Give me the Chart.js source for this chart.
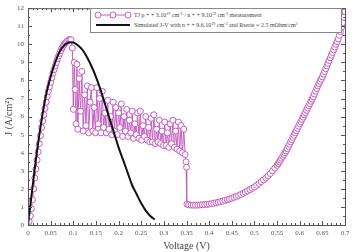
<!DOCTYPE html>
<html>
<head>
<meta charset="utf-8">
<script src="https://cdn.jsdelivr.net/npm/chart.js@4.4.0/dist/chart.umd.min.js"></script>
<style>
  html, body { margin: 0; padding: 0; background: #fff; }
  #wrap { position: relative; width: 354px; height: 252px; }
  #chart { display: block; }
  #legend {
    position: absolute; left: 90px; top: 8px; width: 252px; height: 25px;
    box-sizing: border-box; border: 1px solid #888; background: #fff;
    font-family: "Liberation Serif", serif; font-size: 6px; color: #444;
  }
  .row { position: absolute; left: 3px; height: 10px; line-height: 10px; white-space: nowrap; }
  .row span.txt { position: absolute; left: 40px; top: 0; }
  sup { font-size: 4px; vertical-align: 2px; line-height: 0; }
  canvas.mk { position: absolute; left: 0; top: 0; }
</style>
</head>
<body>
<div id="wrap">
  <canvas id="chart" width="354" height="252"></canvas>
  <div id="legend">
    <div class="row" style="top:1px"><canvas class="mk" id="mk1" width="38" height="10"></canvas><span class="txt">TJ p + + 3.10<sup>19</sup> cm<sup>-3</sup> / n + + 9.10<sup>19</sup> cm<sup>-3</sup> measurement</span></div>
    <div class="row" style="top:11px"><canvas class="mk" id="mk2" width="38" height="10"></canvas><span class="txt">Simulated J-V with n + + 9.6.10<sup>19</sup> cm<sup>-3</sup> and Rserie = 2.5 mOhm/cm<sup>2</sup></span></div>
  </div>
</div>
<script>
// measurement, rising part: voltage (V), current density (A/cm2)
const riseV = [0, 0.0025, 0.005, 0.0075, 0.01, 0.0125, 0.015, 0.0175, 0.02, 0.0225, 0.025, 0.0275, 0.03, 0.0325,
  0.035, 0.0375, 0.04, 0.0425, 0.045, 0.0475, 0.05, 0.0525, 0.055, 0.0575, 0.06, 0.0625, 0.065, 0.0675, 0.07,
  0.0725, 0.075, 0.0775, 0.08, 0.0825, 0.085, 0.0875, 0.09, 0.0925, 0.095];
const riseJ = [0, 0.2, 0.5, 0.9, 1.4, 2.0, 2.6, 3.1, 3.6, 4.05, 4.5, 4.95, 5.4, 5.75,
  6.1, 6.45, 6.8, 7.1, 7.4, 7.65, 7.9, 8.15, 8.4, 8.6, 8.8, 9.0, 9.2, 9.35, 9.5,
  9.65, 9.8, 9.9, 10.0, 10.08, 10.15, 10.2, 10.25, 10.27, 10.25];

// measurement, unstable part
const noiseV = [
  0.098, 0.100, 0.102, 0.104, 0.106, 0.108, 0.110, 0.113, 0.116, 0.119, 0.122, 0.125, 0.128, 0.131, 0.134, 0.137, 0.140, 0.143,
  0.146, 0.149, 0.152, 0.155, 0.158, 0.161, 0.164, 0.167, 0.170, 0.173, 0.176, 0.179, 0.182, 0.185, 0.188, 0.191, 0.194, 0.197,
  0.200, 0.203, 0.206, 0.209, 0.212, 0.215, 0.218, 0.221, 0.224, 0.227, 0.230, 0.233, 0.236, 0.239, 0.242, 0.245, 0.248, 0.251,
  0.254, 0.257, 0.260, 0.263, 0.266, 0.269, 0.272, 0.275, 0.278, 0.281, 0.284, 0.287, 0.290, 0.293, 0.296, 0.299, 0.302, 0.305,
  0.308, 0.311, 0.314, 0.317, 0.320, 0.323, 0.326, 0.329, 0.332, 0.335, 0.338, 0.341, 0.344, 0.347, 0.349, 0.350, 0.351];
const noiseJ = [
  9.8, 6.4, 9.0, 7.5, 5.6, 8.9, 5.3, 8.1, 6.3, 8.5, 5.2, 7.2, 5.5, 7.7, 5.1, 6.8, 7.6, 5.2,
  6.5, 5.1, 7.6, 5.6, 7.0, 5.1, 7.4, 5.4, 6.2, 5.1, 6.9, 5.3, 6.0, 5.0, 6.8, 5.2, 6.5, 5.0,
  6.2, 5.4, 6.7, 4.9, 6.0, 5.2, 6.4, 4.9, 5.8, 5.1, 6.3, 4.8, 5.6, 5.0, 6.2, 4.8, 6.3, 4.7,
  5.5, 4.9, 6.0, 4.7, 5.4, 4.6, 5.9, 4.6, 6.1, 4.5, 5.3, 4.6, 5.8, 4.5, 5.2, 4.4, 5.7, 4.4,
  5.1, 4.3, 5.6, 4.5, 5.8, 4.3, 5.2, 4.2, 5.7, 4.1, 5.5, 4.0, 5.3, 3.9, 3.5, 3.2, 1.15];

// measurement, low-resistance branch
const tailV = [
  0.355, 0.360, 0.365, 0.370, 0.375, 0.380, 0.385, 0.390, 0.395, 0.400, 0.405, 0.410, 0.415, 0.420, 0.425, 0.430, 0.435, 0.440,
  0.445, 0.450, 0.455, 0.460, 0.465, 0.470, 0.475, 0.480, 0.485, 0.490, 0.495, 0.500, 0.505, 0.510, 0.515, 0.520, 0.525, 0.530,
  0.535, 0.540, 0.545, 0.550, 0.5525, 0.555, 0.5575, 0.560, 0.5625, 0.565, 0.5675, 0.570, 0.5725, 0.575, 0.5775, 0.580,
  0.5825, 0.585, 0.5875, 0.590, 0.5925, 0.595, 0.5975, 0.600, 0.6025, 0.605, 0.6075, 0.610, 0.6125, 0.615, 0.6175, 0.620,
  0.6225, 0.625, 0.6275, 0.630, 0.6325, 0.635, 0.6375, 0.640, 0.6425, 0.645, 0.6475, 0.650, 0.6525, 0.655, 0.6575, 0.660,
  0.6625, 0.665, 0.6675, 0.670, 0.6725, 0.675, 0.6775, 0.680, 0.6825, 0.685, 0.6875, 0.690, 0.6925, 0.695, 0.6975, 0.700];
const tailJ = [
  1.12, 1.10, 1.10, 1.10, 1.10, 1.11, 1.12, 1.13, 1.14, 1.16, 1.18, 1.20, 1.23, 1.26, 1.29, 1.32, 1.36, 1.40,
  1.44, 1.48, 1.53, 1.58, 1.63, 1.69, 1.75, 1.82, 1.89, 1.96, 2.03, 2.10, 2.20, 2.30, 2.40, 2.50, 2.60, 2.72,
  2.85, 3.00, 3.15, 3.30, 3.40, 3.50, 3.60, 3.70, 3.80, 3.90, 4.00, 4.10, 4.22, 4.35, 4.47, 4.60,
  4.72, 4.85, 4.97, 5.10, 5.22, 5.35, 5.47, 5.60, 5.72, 5.85, 5.97, 6.10, 6.22, 6.35, 6.47, 6.60,
  6.72, 6.85, 6.97, 7.10, 7.25, 7.40, 7.55, 7.70, 7.82, 7.95, 8.07, 8.20, 8.35, 8.50, 8.65, 8.80,
  8.95, 9.10, 9.25, 9.40, 9.55, 9.70, 9.85, 10.0, 10.15, 10.3, 10.5, 10.7, 10.95, 11.2, 11.5, 11.8];

// simulated J-V curve
const simV = [0, 0.01, 0.02, 0.03, 0.04, 0.05, 0.06, 0.07, 0.08, 0.09, 0.10, 0.11, 0.12, 0.13, 0.14,
  0.15, 0.16, 0.17, 0.18, 0.19, 0.20, 0.21, 0.22, 0.23, 0.24, 0.25, 0.26, 0.27, 0.28];
const simJ = [0, 2.1, 4.1, 5.8, 7.2, 8.2, 9.0, 9.6, 9.95, 10.1, 10.1, 9.95, 9.7, 9.3, 8.8,
  8.2, 7.5, 6.7, 5.9, 5.1, 4.3, 3.6, 2.9, 2.2, 1.7, 1.2, 0.8, 0.5, 0.3];

const xTicks = [0, 0.05, 0.1, 0.15, 0.2, 0.25, 0.3, 0.35, 0.4, 0.45, 0.5, 0.55, 0.6, 0.65, 0.7];
const yTicks = [0, 1, 2, 3, 4, 5, 6, 7, 8, 9, 10, 11, 12];

const pink = '#c45ec0';
const serif = '"Liberation Serif", "DejaVu Serif", serif';

// inward ticks on all four sides plus frame
const frameTicks = {
    id: 'frameTicks',
    afterDraw(chart) {
        const { ctx, chartArea: a, scales } = chart;
        const xs = scales.x, ys = scales.y;
        ctx.save();
        ctx.strokeStyle = '#555';
        ctx.lineWidth = 1;
        ctx.strokeRect(a.left + 0.5, a.top + 0.5, a.right - a.left, a.bottom - a.top);
        ctx.beginPath();
        for (let i = 0; i <= 70; i++) {
            const px = Math.round(xs.getPixelForValue(i / 100)) + 0.5;
            const len = i % 5 === 0 ? 4 : 2;
            ctx.moveTo(px, a.bottom); ctx.lineTo(px, a.bottom - len);
            ctx.moveTo(px, a.top); ctx.lineTo(px, a.top + len);
        }
        for (let i = 0; i <= 24; i++) {
            const py = Math.round(ys.getPixelForValue(i / 2)) + 0.5;
            const len = i % 2 === 0 ? 4 : 2;
            ctx.moveTo(a.left, py); ctx.lineTo(a.left + len, py);
            ctx.moveTo(a.right, py); ctx.lineTo(a.right - len, py);
        }
        ctx.stroke();
        ctx.restore();
    }
};

const measV = riseV.concat(noiseV, tailV);
const measJ = riseJ.concat(noiseJ, tailJ);
const measPoints = measV.map((v, i) => ({ x: v, y: measJ[i] }));
const simPoints = simV.map((v, i) => ({ x: v, y: simJ[i] }));

new Chart(document.getElementById('chart'), {
    type: 'scatter',
    data: {
        datasets: [
            {
                label: 'Simulated',
                data: simPoints,
                showLine: true,
                borderColor: '#111',
                borderWidth: 2,
                pointRadius: 0,
                tension: 0.4,
                order: 0
            },
            {
                label: 'Measurement',
                data: measPoints,
                showLine: true,
                borderColor: pink,
                borderWidth: 1,
                pointRadius: 3,
                pointBorderWidth: 1,
                pointBorderColor: pink,
                pointBackgroundColor: '#fff',
                order: 1
            }
        ]
    },
    options: {
        responsive: false,
        animation: false,
        events: [],
        layout: { padding: { top: 5, right: 9, left: 0, bottom: 0 } },
        plugins: { legend: { display: false }, tooltip: { enabled: false } },
        scales: {
            x: {
                type: 'linear', min: 0, max: 0.7,
                afterBuildTicks: s => { s.ticks = xTicks.map(v => ({ value: v })); },
                afterFit: s => { s.height = 27; },
                grid: { display: false, drawTicks: false },
                border: { display: false },
                ticks: {
                    font: { family: serif, size: 7 }, color: '#555', padding: 4, maxRotation: 0,
                    callback: v => String(Number(v.toFixed(2)))
                },
                title: { display: true, text: 'Voltage (V)', font: { family: serif, size: 10 }, color: '#444', padding: { top: 0, bottom: 0 } }
            },
            y: {
                type: 'linear', min: 0, max: 12,
                afterBuildTicks: s => { s.ticks = yTicks.map(v => ({ value: v })); },
                afterFit: s => { s.width = 28; },
                grid: { display: false, drawTicks: false },
                border: { display: false },
                ticks: { font: { family: serif, size: 7 }, color: '#555', padding: 4 },
                title: { display: true, text: 'J (A/cm²)', font: { family: serif, size: 10 }, color: '#444', padding: { top: 3, bottom: 0 } }
            }
        }
    },
    plugins: [frameTicks]
});

// legend markers
(function () {
    const m1 = document.getElementById('mk1').getContext('2d');
    m1.strokeStyle = pink; m1.lineWidth = 1;
    m1.beginPath(); m1.moveTo(3, 5); m1.lineTo(35, 5); m1.stroke();
    [4, 19, 34].forEach(x => {
        m1.beginPath(); m1.arc(x, 5, 3, 0, Math.PI * 2);
        m1.fillStyle = '#fff'; m1.fill(); m1.stroke();
    });
    const m2 = document.getElementById('mk2').getContext('2d');
    m2.strokeStyle = '#111'; m2.lineWidth = 2;
    m2.beginPath(); m2.moveTo(2, 5); m2.lineTo(36, 5); m2.stroke();
})();
</script>
</body>
</html>
